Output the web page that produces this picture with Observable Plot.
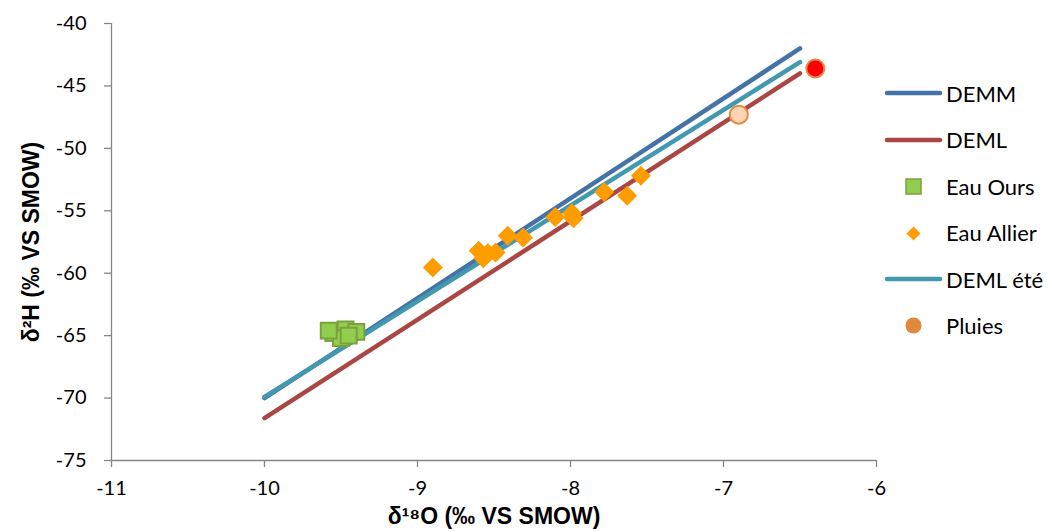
<!DOCTYPE html>
<html>
<head>
<meta charset="utf-8">
<script src="https://cdn.jsdelivr.net/npm/d3@7"></script>
<script src="https://cdn.jsdelivr.net/npm/@observablehq/plot@0.6"></script>
<style>
  body { margin: 0; background: #fff; }
  #wrap { position: relative; width: 1052px; height: 532px; overflow: hidden; background: #fff; }
  #legend { position: absolute; left: 884px; top: 0; font-family: Lato, "DejaVu Sans", sans-serif; font-size: 22px; color: #000; }
  .row { position: absolute; left: 0; height: 30px; display: flex; align-items: center; white-space: nowrap; }
  .row svg { flex: none; }
  .row span { margin-left: 2px; }
</style>
</head>
<body>
<div id="wrap"><div id="legend"></div></div>
<script>
// ---- data ----
const xTicks = [-11, -10, -9, -8, -7, -6];
const yTicks = [-75, -70, -65, -60, -55, -50, -45, -40];

const demmX = [-10, -6.5];
const demmY = [-70, -42];

const demlX = [-10, -6.5];
const demlY = [-71.6, -44.0];

const demlEteX = [-10, -6.5];
const demlEteY = [-69.9, -43.1];

const oursX = [-9.55, -9.47, -9.40, -9.50, -9.45, -9.58];
const oursY = [-64.8, -64.5, -64.7, -65.2, -65.0, -64.6];

const allierX = [-8.90, -8.60, -8.54, -8.49, -8.57, -8.41, -8.31, -8.10, -7.99, -7.98, -7.78, -7.63, -7.54];
const allierY = [-59.55, -58.2, -58.4, -58.35, -58.8, -57.0, -57.15, -55.5, -55.2, -55.6, -53.5, -53.8, -52.2];

const pluiesX = [-6.9, -6.4];
const pluiesY = [-47.3, -43.6];

const seriesNames = ["DEMM", "DEML", "Eau Ours", "Eau Allier", "DEML été", "Pluies"];

// ---- build ----
const toPts = (xs, ys) => xs.map((x, i) => ({x, y: ys[i]}));
const demm = toPts(demmX, demmY);
const deml = toPts(demlX, demlY);
const demlEte = toPts(demlEteX, demlEteY);
const ours = toPts(oursX, oursY);
const allier = toPts(allierX, allierY);
const pluies = toPts(pluiesX, pluiesY);

const C = {
  demm: "#4572A7", deml: "#AA4643", ete: "#4198AF",
  oursFill: "#92CD4F", oursStroke: "#7AA23C",
  allier: "#FF9C00",
  pluiesStroke: "#E58A3E", pluiesFill: ["#FBD4B6", "#FF0000"], pluiesLegend: "#E0883C",
  axis: "#868686"
};

const titleFont = "'Liberation Sans', Arial, sans-serif";

const chart = Plot.plot({
  width: 1052,
  height: 532,
  marginLeft: 111,
  marginRight: 176,
  marginTop: 23,
  marginBottom: 72,
  x: {domain: [-11, -6]},
  y: {domain: [-75, -40]},
  style: {fontFamily: "Lato, 'DejaVu Sans', sans-serif", fontSize: "20px", color: "#000", background: "#fff"},
  marks: [
    Plot.ruleX([-11], {stroke: C.axis, strokeWidth: 1.3}),
    Plot.ruleY([-75], {stroke: C.axis, strokeWidth: 1.3}),
    Plot.axisX({ticks: xTicks, tickSize: 7, tickPadding: 13, stroke: C.axis, strokeWidth: 1.3, tickFormat: d => String(d), label: null}),
    Plot.axisY({ticks: yTicks, tickSize: 7, tickPadding: 18, stroke: C.axis, strokeWidth: 1.3, tickFormat: d => String(d), label: null}),
    Plot.line(demm, {x: "x", y: "y", stroke: C.demm, strokeWidth: 4.5, strokeLinecap: "round"}),
    Plot.line(deml, {x: "x", y: "y", stroke: C.deml, strokeWidth: 4.5, strokeLinecap: "round"}),
    Plot.line(demlEte, {x: "x", y: "y", stroke: C.ete, strokeWidth: 4.5, strokeLinecap: "round"}),
    Plot.dot(ours, {x: "x", y: "y", symbol: "square", r: 9, fill: C.oursFill, stroke: C.oursStroke, strokeWidth: 2}),
    Plot.dot(allier, {x: "x", y: "y", symbol: "diamond2", r: 9, fill: C.allier, stroke: "none"}),
    Plot.dot(pluies, {x: "x", y: "y", r: 9, fill: (d, i) => C.pluiesFill[i], stroke: C.pluiesStroke, strokeWidth: 2}),
    Plot.text(["δ¹⁸O (‰ VS SMOW)"], {frameAnchor: "bottom", textAnchor: "middle", dy: 63, fontWeight: "bold", fontSize: 23, fontFamily: titleFont, fill: "#000"}),
    Plot.text(["δ²H (‰ VS SMOW)"], {frameAnchor: "left", textAnchor: "middle", dx: -80, rotate: -90, fontWeight: "bold", fontSize: 23, fontFamily: titleFont, fill: "#000"})
  ]
});
document.getElementById("wrap").prepend(chart);

// ---- legend ----
const legendCenters = [93, 139.5, 186, 232.5, 279, 325];
const legend = document.getElementById("legend");
const swatch = (name) => {
  const ns = "http://www.w3.org/2000/svg";
  const s = document.createElementNS(ns, "svg");
  s.setAttribute("width", 60); s.setAttribute("height", 30);
  let el;
  if (name === "DEMM" || name === "DEML" || name === "DEML été") {
    el = document.createElementNS(ns, "line");
    el.setAttribute("x1", 3); el.setAttribute("x2", 56); el.setAttribute("y1", 15); el.setAttribute("y2", 15);
    el.setAttribute("stroke", name === "DEMM" ? C.demm : name === "DEML" ? C.deml : C.ete);
    el.setAttribute("stroke-width", 4.5); el.setAttribute("stroke-linecap", "round");
  } else if (name === "Eau Ours") {
    el = document.createElementNS(ns, "rect");
    el.setAttribute("x", 22); el.setAttribute("y", 8); el.setAttribute("width", 15); el.setAttribute("height", 15);
    el.setAttribute("fill", C.oursFill); el.setAttribute("stroke", C.oursStroke); el.setAttribute("stroke-width", 1.5);
  } else if (name === "Eau Allier") {
    el = document.createElementNS(ns, "path");
    el.setAttribute("d", "M29.5,8.5L36.5,15.5L29.5,22.5L22.5,15.5Z");
    el.setAttribute("fill", C.allier);
  } else {
    el = document.createElementNS(ns, "circle");
    el.setAttribute("cx", 29.5); el.setAttribute("cy", 15.5); el.setAttribute("r", 8);
    el.setAttribute("fill", C.pluiesLegend);
  }
  s.appendChild(el);
  return s;
};
seriesNames.forEach((name, i) => {
  const row = document.createElement("div");
  row.className = "row";
  row.style.top = (legendCenters[i] - 15) + "px";
  row.appendChild(swatch(name));
  const t = document.createElement("span");
  t.textContent = name;
  row.appendChild(t);
  legend.appendChild(row);
});
</script>
</body>
</html>
